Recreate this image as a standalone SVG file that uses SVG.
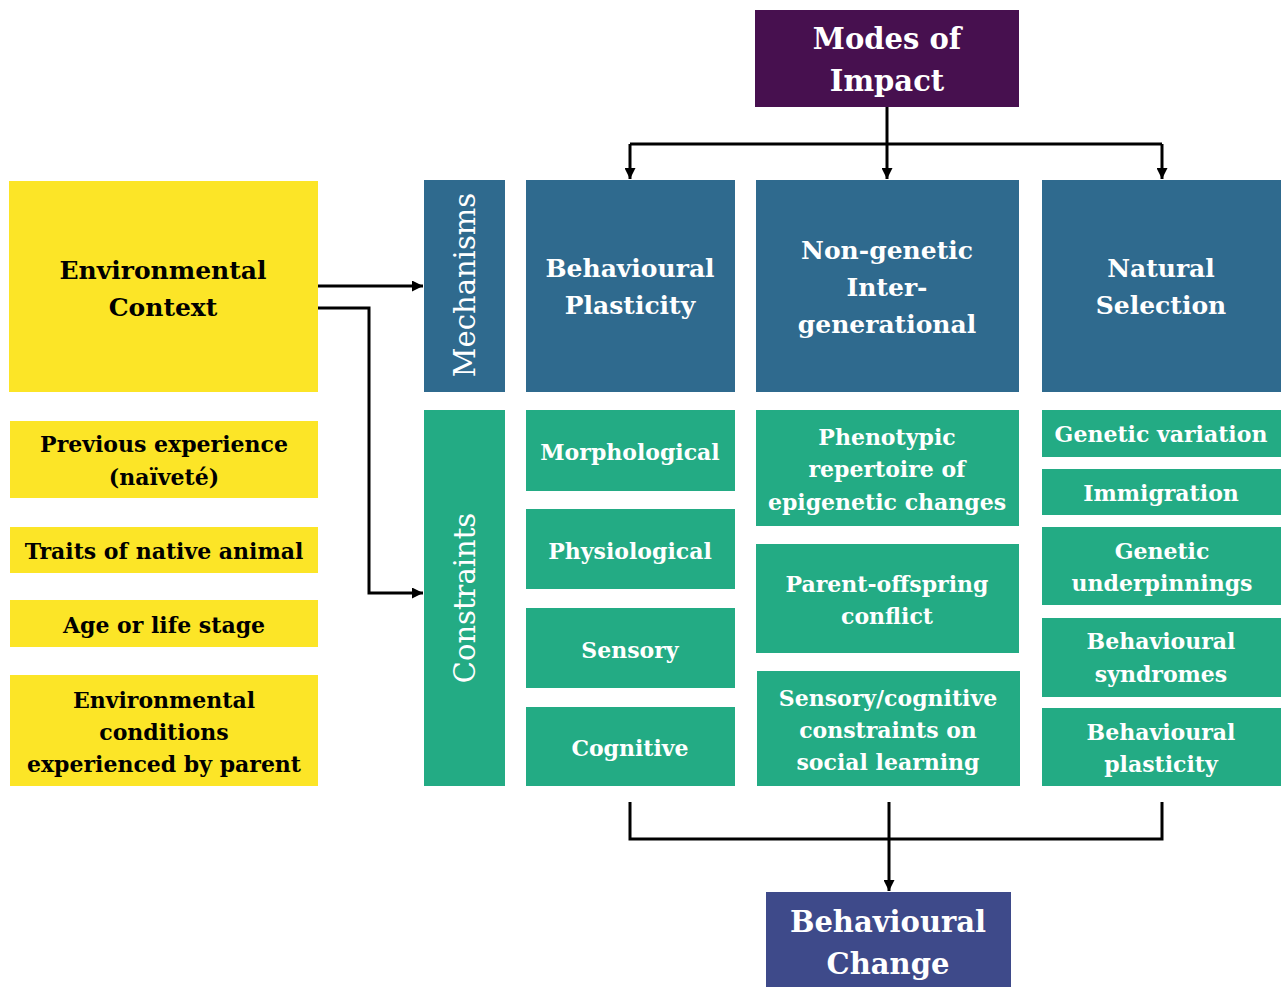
<svg xmlns="http://www.w3.org/2000/svg" width="1286" height="987" viewBox="0 0 1286 987">
<defs>
<marker id="ah" viewBox="0 0 10 10" refX="10" refY="5" markerWidth="11" markerHeight="11" markerUnits="userSpaceOnUse" orient="auto">
<path d="M0,0 L10,5 L0,10 z" fill="#000"/>
</marker>
<style>
text{font-family:"DejaVu Serif","Liberation Serif",serif;font-weight:bold;text-anchor:middle;dominant-baseline:central}
.w{fill:#fff}
.k{fill:#000}
.s{font-size:22px}
.m{font-size:25px}
.l{font-size:29px}
.r{font-size:29px;font-weight:normal}
.blue{fill:#2f6a8e}
.green{fill:#23ab84}
.yel{fill:#fce527}
.con{fill:none;stroke:#000;stroke-width:3}
</style>
</defs>
<rect width="1286" height="987" fill="#fff"/>
<g id="modes"><rect x="755" y="10" width="264" height="97" fill="#47104f"/><text class="w l" x="887" y="39">Modes of</text><text class="w l" x="887" y="81">Impact</text></g>
<g id="behchange"><rect x="766" y="892" width="245" height="95" fill="#3e4a8a"/><text class="w l" x="888" y="922">Behavioural</text><text class="w l" x="888" y="964">Change</text></g>
<g id="envctx"><rect class="yel" x="9" y="181" width="309" height="211"/><text class="k m" x="163" y="270">Environmental</text><text class="k m" x="163" y="307">Context</text></g>
<g id="prev"><rect class="yel" x="10" y="421" width="308" height="77"/><text class="k s" x="164" y="444">Previous experience</text><text class="k s" x="164" y="477">(naïveté)</text></g>
<g id="traits"><rect class="yel" x="10" y="527" width="308" height="46"/><text class="k s" x="164" y="551">Traits of native animal</text></g>
<g id="age"><rect class="yel" x="10" y="600" width="308" height="47"/><text class="k s" x="164" y="625">Age or life stage</text></g>
<g id="envcond"><rect class="yel" x="10" y="675" width="308" height="111"/><text class="k s" x="164" y="700">Environmental</text><text class="k s" x="164" y="732">conditions</text><text class="k s" x="164" y="764">experienced by parent</text></g>
<g id="mechanisms"><rect class="blue" x="424" y="180" width="81" height="212"/><text class="w r" transform="translate(465,285) rotate(-90)">Mechanisms</text></g>
<g id="constraints"><rect class="green" x="424" y="410" width="81" height="376"/><text class="w r" transform="translate(465,598) rotate(-90)">Constraints</text></g>
<g id="bp"><rect class="blue" x="526" y="180" width="209" height="212"/><text class="w m" x="630" y="268">Behavioural</text><text class="w m" x="630" y="305">Plasticity</text></g>
<g id="ngi"><rect class="blue" x="756" y="180" width="263" height="212"/><text class="w m" x="887" y="250">Non-genetic</text><text class="w m" x="887" y="287">Inter-</text><text class="w m" x="887" y="324">generational</text></g>
<g id="ns"><rect class="blue" x="1042" y="180" width="239" height="212"/><text class="w m" x="1161" y="268">Natural</text><text class="w m" x="1161" y="305">Selection</text></g>
<g id="morph"><rect class="green" x="526" y="410" width="209" height="81"/><text class="w s" x="630" y="452">Morphological</text></g>
<g id="phys"><rect class="green" x="526" y="509" width="209" height="80"/><text class="w s" x="630" y="551">Physiological</text></g>
<g id="sens"><rect class="green" x="526" y="608" width="209" height="80"/><text class="w s" x="630" y="650">Sensory</text></g>
<g id="cog"><rect class="green" x="526" y="707" width="209" height="79"/><text class="w s" x="630" y="748">Cognitive</text></g>
<g id="pheno"><rect class="green" x="756" y="410" width="263" height="116"/><text class="w s" x="887" y="437">Phenotypic</text><text class="w s" x="887" y="469">repertoire of</text><text class="w s" x="887" y="502">epigenetic changes</text></g>
<g id="poc"><rect class="green" x="756" y="544" width="263" height="109"/><text class="w s" x="887" y="584">Parent-offspring</text><text class="w s" x="887" y="616">conflict</text></g>
<g id="scc"><rect class="green" x="757" y="671" width="263" height="115"/><text class="w s" x="888" y="698">Sensory/cognitive</text><text class="w s" x="888" y="730">constraints on</text><text class="w s" x="888" y="762">social learning</text></g>
<g id="gv"><rect class="green" x="1042" y="410" width="239" height="47"/><text class="w s" x="1161" y="434">Genetic variation</text></g>
<g id="imm"><rect class="green" x="1042" y="469" width="239" height="46"/><text class="w s" x="1161" y="493">Immigration</text></g>
<g id="gu"><rect class="green" x="1042" y="527" width="239" height="78"/><text class="w s" x="1162" y="551">Genetic</text><text class="w s" x="1162" y="583">underpinnings</text></g>
<g id="bs"><rect class="green" x="1042" y="618" width="239" height="79"/><text class="w s" x="1161" y="641">Behavioural</text><text class="w s" x="1161" y="674">syndromes</text></g>
<g id="bpl"><rect class="green" x="1042" y="708" width="239" height="78"/><text class="w s" x="1161" y="732">Behavioural</text><text class="w s" x="1161" y="764">plasticity</text></g>
<g id="connectors">
<path class="con" d="M887,107 V144"/>
<path class="con" d="M630,144 H1162"/>
<path class="con" d="M630,144 V179" marker-end="url(#ah)"/>
<path class="con" d="M887,144 V179" marker-end="url(#ah)"/>
<path class="con" d="M1162,144 V179" marker-end="url(#ah)"/>
<path class="con" d="M318,286 H423" marker-end="url(#ah)"/>
<path class="con" d="M318,308 H369 V593 H423" marker-end="url(#ah)"/>
<path class="con" d="M630,802 V839 H1162 V802"/>
<path class="con" d="M889,802 V891" marker-end="url(#ah)"/>
</g>
</svg>
